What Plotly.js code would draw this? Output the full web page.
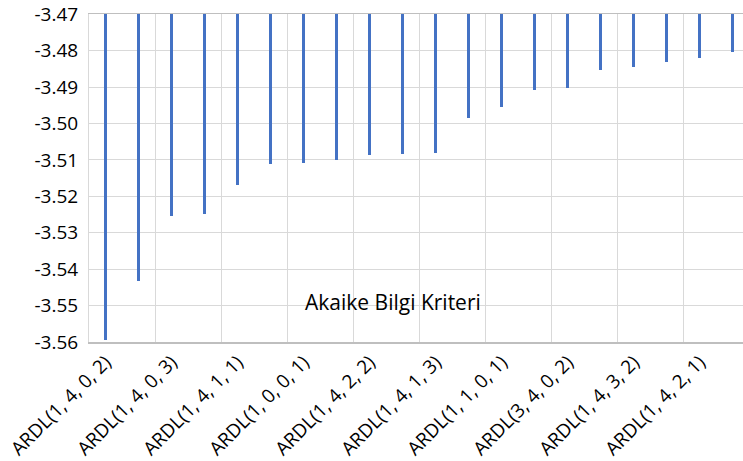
<!DOCTYPE html>
<html><head><meta charset="utf-8">
<script src="https://cdn.plot.ly/plotly-3.0.1.min.js"></script>
<style>html,body{margin:0;padding:0;background:#fff}#chart{width:743px;height:461px}</style>
</head><body><div id="chart"></div>
<script>
// Akaike Bilgi Kriteri values for the 20 best ARDL models (left to right)
const aicValues = [-3.5594, -3.5432, -3.5253, -3.5249, -3.5168, -3.5110, -3.5109, -3.5099, -3.5087, -3.5083,
                   -3.5082, -3.4984, -3.4954, -3.4907, -3.4904, -3.4854, -3.4846, -3.4832, -3.4821, -3.4804];
// only every other category label is shown on the chart
const shownLabels = ["ARDL(1, 4, 0, 2)", "ARDL(1, 4, 0, 3)", "ARDL(1, 4, 1, 1)", "ARDL(1, 0, 0, 1)", "ARDL(1, 4, 2, 2)",
                     "ARDL(1, 4, 1, 3)", "ARDL(1, 1, 0, 1)", "ARDL(3, 4, 0, 2)", "ARDL(1, 4, 3, 2)", "ARDL(1, 4, 2, 1)"];
const yTicks = [-3.56, -3.55, -3.54, -3.53, -3.52, -3.51, -3.50, -3.49, -3.48, -3.47];
const seriesName = "Akaike Bilgi Kriteri";
const axisBase = -3.47;

const xIdx = aicValues.map((v, i) => i);
const FONT = "Open Sans, sans-serif";

Plotly.newPlot("chart", [{
  type: "bar",
  x: xIdx,
  base: axisBase,
  y: aicValues.map(v => v - axisBase),
  width: 0.1,
  marker: {color: "#4472C4", line: {width: 0}},
  name: seriesName,
  hoverinfo: "skip"
}], {
  width: 743, height: 461,
  margin: {l: 89, r: 0, t: 14, b: 119},
  paper_bgcolor: "#fff", plot_bgcolor: "#fff",
  showlegend: false,
  bargap: 0,
  xaxis: {
    range: [-0.5, 19.31],
    tickmode: "array",
    tickvals: shownLabels.map((t, i) => i * 2),
    ticktext: shownLabels,
    tickangle: -45,
    ticks: "",
    showgrid: false,
    zeroline: false,
    showline: true, linecolor: "#BFBFBF", linewidth: 1.5, mirror: true,
    tickfont: {family: FONT, size: 19, color: "#000"},
    minor: {tick0: -0.5, dtick: 2, showgrid: true, gridcolor: "#D9D9D9", gridwidth: 1, ticks: ""}
  },
  yaxis: {
    range: [-3.56, -3.46995],
    tickmode: "array",
    tickvals: yTicks,
    ticktext: yTicks.map(v => v.toFixed(2)),
    ticks: "",
    ticklabelstandoff: 6,
    ticklabeloverflow: "allow",
    showgrid: true, gridcolor: "#D9D9D9", gridwidth: 1,
    zeroline: false,
    showline: true, linecolor: "#D9D9D9", linewidth: 1,
    tickfont: {family: FONT, size: 19, color: "#000"}
  },
  annotations: [{
    xref: "paper", yref: "paper", x: 0.4646, y: 0.1234,
    text: seriesName, showarrow: false,
    xanchor: "center", yanchor: "middle",
    font: {family: FONT, size: 21, color: "#000"}
  }]
}, {staticPlot: true, displayModeBar: false});
</script></body></html>
